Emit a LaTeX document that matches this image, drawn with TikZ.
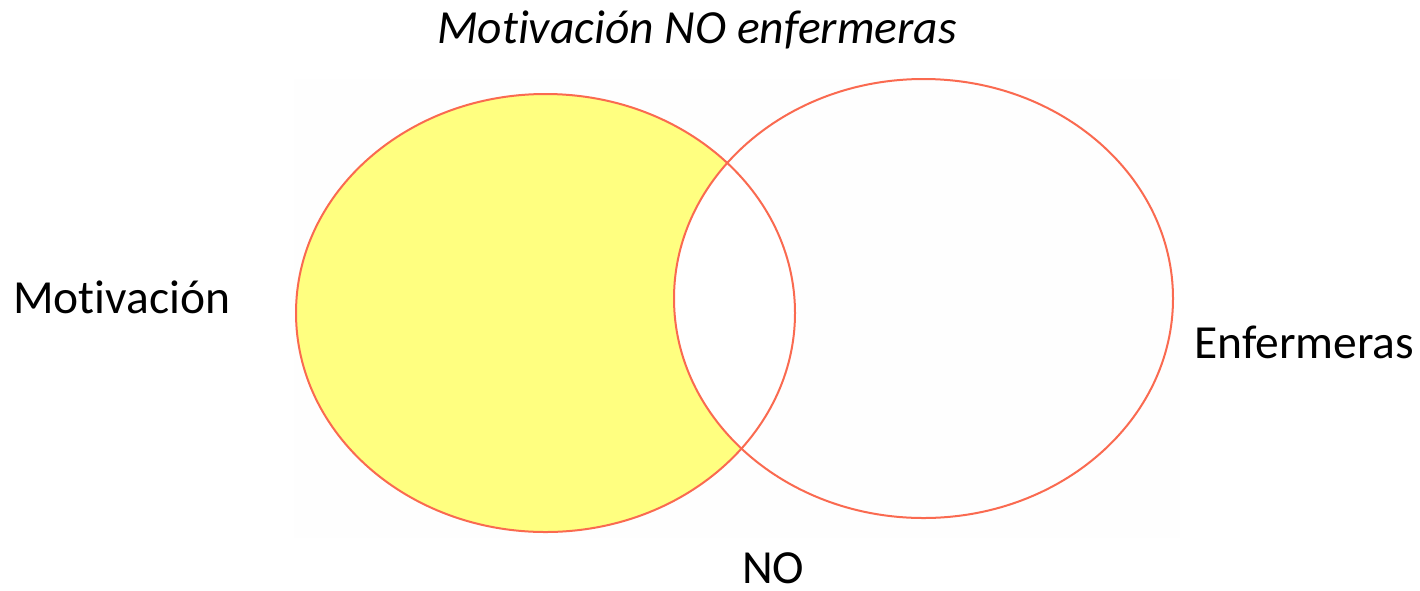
\documentclass[tikz,border=0pt]{standalone}
\usepackage{fontspec}
\setmainfont{Carlito}[Ligatures=CommonOff]
\definecolor{vline}{HTML}{FA6A50}
\definecolor{vfill}{HTML}{FFFF80}
\definecolor{vbg}{HTML}{FEFEFE}
\begin{document}
\begin{tikzpicture}[x=1pt,y=-1pt,
  setring/.style={draw=vline,line width=2pt},
  lbl/.style={font=\fontsize{47.5}{56}\selectfont,inner sep=0pt,anchor=base west}]
\useasboundingbox (0,0) rectangle (1420,590);
\fill[vbg] (294,79) rectangle (1180,538);
% left set filled
\fill[vfill] (545.5,313) ellipse [x radius=249.5,y radius=219];
% remove intersection (white)
\begin{scope}
  \clip (545.5,313) ellipse [x radius=249.5,y radius=219];
  \fill[white] (923.5,298.5) ellipse [x radius=249.5,y radius=219.5];
\end{scope}
\draw[setring] (545.5,313) ellipse [x radius=249.5,y radius=219];
\draw[setring] (923.5,298.5) ellipse [x radius=249.5,y radius=219.5];
\node[lbl,font=\fontsize{47.5}{56}\selectfont\itshape] (title) at (437,43) {Motivación NO enfermeras};
\node[lbl] (mot) at (13,313) {Motivación};
\node[lbl] (enf) at (1194,358) {Enfermeras};
\node[lbl,text depth=0pt] (no) at (742,583) {NO};
\end{tikzpicture}
\end{document}
